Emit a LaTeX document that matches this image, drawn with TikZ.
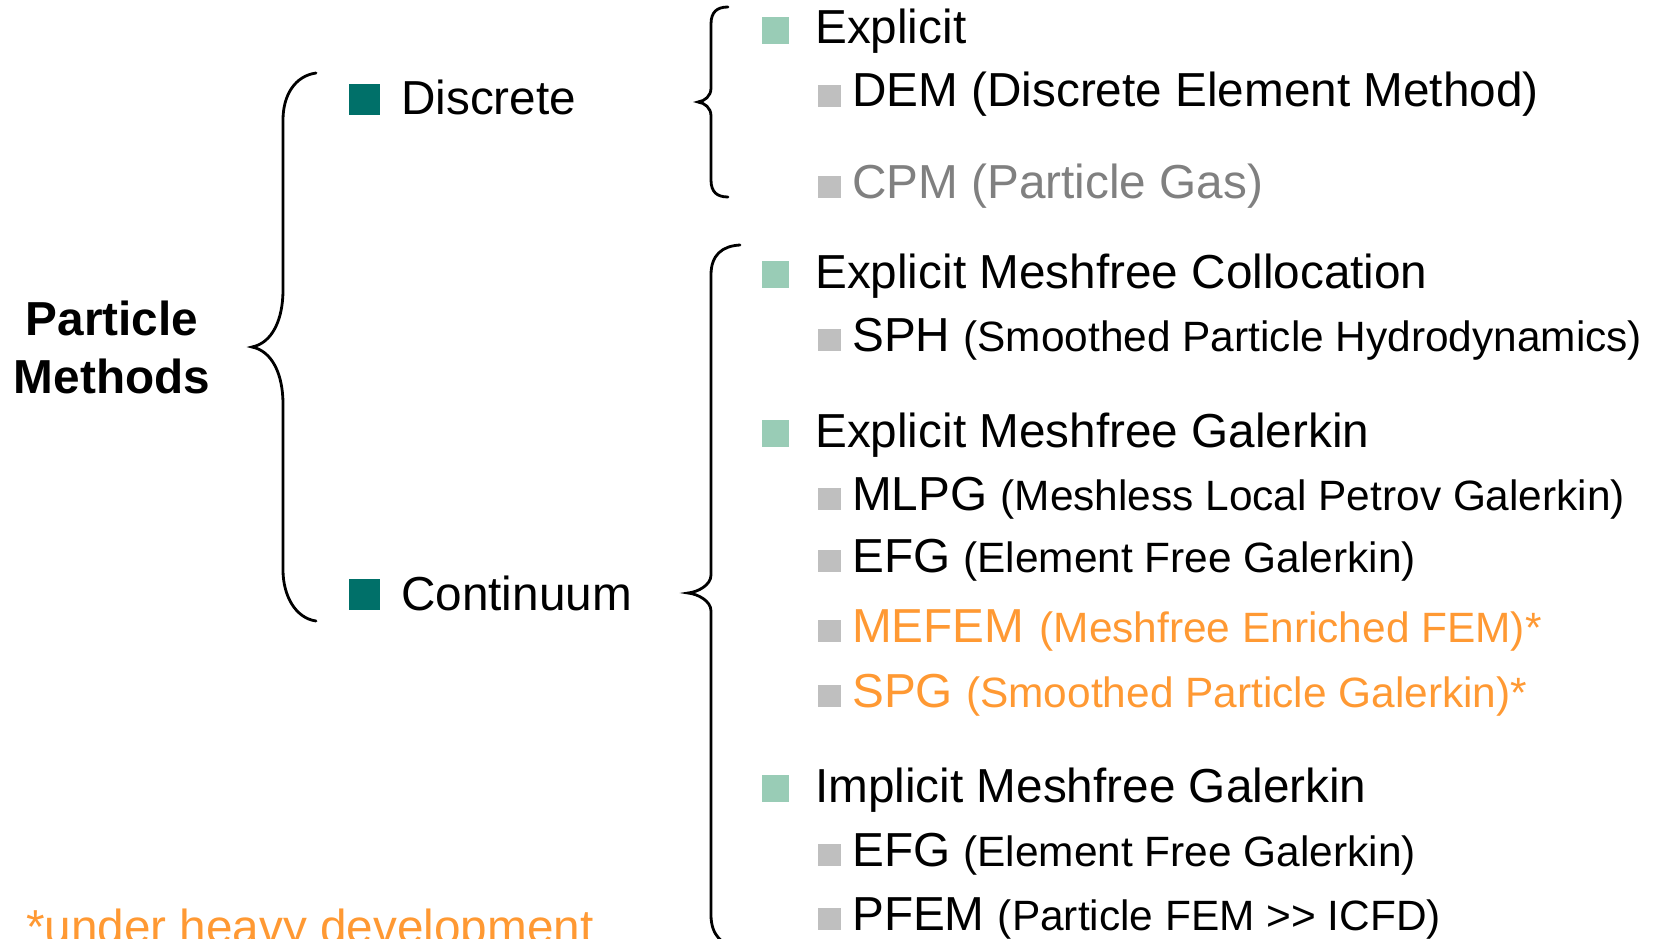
\documentclass[tikz,border=0pt]{standalone}
\usepackage{fontspec}
\setmainfont{Liberation Sans}
\definecolor{tealsq}{RGB}{0,112,105}
\definecolor{greensq}{RGB}{153,204,182}
\definecolor{greysq}{RGB}{191,191,191}
\definecolor{greytxt}{RGB}{128,128,128}
\definecolor{orng}{RGB}{255,153,51}
\newcommand{\mainsize}{\fontsize{47.7}{57}\selectfont}
\newcommand{\smalltxt}{\fontsize{42.4}{50}\selectfont}
\begin{document}
\begin{tikzpicture}[x=1pt,y=-1pt,
  txt/.style={anchor=base west,inner sep=0pt,font=\mainsize},
  head/.style={anchor=base,inner sep=0pt,font=\mainsize\bfseries},
  tealbox/.style={fill=tealsq,minimum size=31pt,inner sep=0pt,anchor=south west},
  greenbox/.style={fill=greensq,minimum size=27pt,inner sep=0pt,anchor=south west},
  greybox/.style={fill=greysq,minimum width=23pt,minimum height=22pt,inner sep=0pt,anchor=south west},
  brace/.style={line width=2.8pt,line cap=round}]
\useasboundingbox (0,0) rectangle (1662,939);
% Root
\node[head] (pm1) at (112,335) {Particle};
\node[head] (pm2) at (112,393) {Methods};
% Left brace
\coordinate (lbt) at (316,73);
\coordinate (lbm) at (252,347);
\coordinate (lbb) at (316,621);
\draw[brace] (lbt) .. controls (295,76) and (283,95) .. (283,120) -- (283,290)
  .. controls (283,320) and (272,343) .. (lbm)
  .. controls (272,351) and (283,374) .. (283,404) -- (283,570)
  .. controls (283,595) and (295,618) .. (lbb);
% Level 1
\node[tealbox] (sqd) at (349,115) {};
\node[txt] (disc) at (401,115) {Discrete};
\node[tealbox] (sqc) at (349,610) {};
\node[txt] (cont) at (401,610) {Continuum};
% Upper right brace
\coordinate (ubt) at (728,7);
\coordinate (ubm) at (698,102);
\coordinate (ubb) at (728,197);
\draw[brace] (ubt) .. controls (717,7) and (711,12) .. (711,24) -- (711,88)
  .. controls (711,96) and (705,101) .. (ubm)
  .. controls (705,103) and (711,108) .. (711,116) -- (711,180)
  .. controls (711,192) and (717,197) .. (ubb);
% Lower right brace
\coordinate (dbt) at (740,245);
\coordinate (dbm) at (688,593);
\coordinate (dbb) at (740,948);
\draw[brace] (dbt) .. controls (722,246) and (711,255) .. (711,275) -- (711,575)
  .. controls (711,585) and (698,592) .. (dbm)
  .. controls (698,594) and (711,601) .. (711,611) -- (711,915)
  .. controls (711,935) and (722,946) .. (dbb);
% Discrete branch
\node[greenbox] (g1) at (762,44) {};
\node[txt] (t1) at (815,44) {Explicit};
\node[greybox] (s1) at (818,107) {};
\node[txt] (u1) at (852,107) {DEM (Discrete Element Method)};
\node[greybox] (s2) at (818,198) {};
\node[txt,text=greytxt] (u2) at (852,198) {CPM (Particle Gas)};
% Continuum branch
\node[greenbox] (g2) at (762,288) {};
\node[txt] (t2) at (815,288) {Explicit Meshfree Collocation};
\node[greybox] (s3) at (818,351) {};
\node[txt] (u3) at (852,351) {SPH {\smalltxt(Smoothed Particle Hydrodynamics)}};
\node[greenbox] (g3) at (762,447) {};
\node[txt] (t3) at (815,447) {Explicit Meshfree Galerkin};
\node[greybox] (s4) at (818,510) {};
\node[txt] (u4) at (852,510) {MLPG {\smalltxt(Meshless Local Petrov Galerkin)}};
\node[greybox] (s5) at (818,572) {};
\node[txt] (u5) at (852,572) {EFG {\smalltxt(Element Free Galerkin)}};
\node[greybox] (s6) at (818,642) {};
\node[txt,text=orng] (u6) at (852,642) {MEFEM\hspace{2pt} {\smalltxt(Meshfree Enriched FEM)*}};
\node[greybox] (s7) at (818,707) {};
\node[txt,text=orng] (u7) at (852,707) {SPG {\smalltxt(Smoothed Particle Galerkin)*}};
\node[greenbox] (g4) at (762,802) {};
\node[txt] (t4) at (815,802) {Implicit Meshfree Galerkin};
\node[greybox] (s8) at (818,866) {};
\node[txt] (u8) at (852,866) {EFG {\smalltxt(Element Free Galerkin)}};
\node[greybox] (s9) at (818,930) {};
\node[txt] (u9) at (852,930) {PFEM {\smalltxt(Particle FEM {>}{>} ICFD)}};
% Footnote
\node[txt,text=orng] (foot) at (26,943) {*under heavy development};
\end{tikzpicture}
\end{document}
